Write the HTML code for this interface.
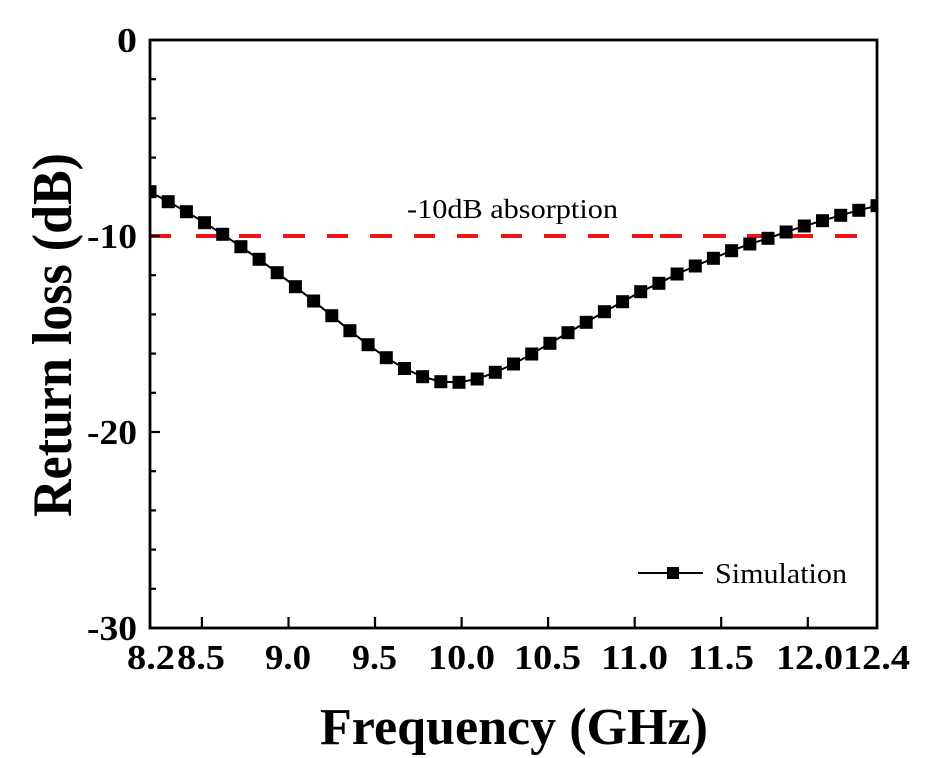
<!DOCTYPE html>
<html>
<head>
<meta charset="utf-8">
<style>
  html, body { margin:0; padding:0; background:#ffffff; }
  svg { display:block; }
  .tick { font-family:"Liberation Serif", serif; font-weight:bold; fill:#000; }
  .title { font-family:"Liberation Serif", serif; font-weight:bold; fill:#000; }
  .reg { font-family:"Liberation Serif", serif; fill:#000; }
</style>
</head>
<body>
<svg width="945" height="758" viewBox="0 0 945 758" xmlns="http://www.w3.org/2000/svg">
  <rect x="0" y="0" width="945" height="758" fill="#ffffff"/>
  <defs>
    <clipPath id="plot">
      <rect x="150" y="40" width="727" height="588"/>
    </clipPath>
  </defs>

  <g stroke="#f01414" stroke-width="4">
    <line x1="150" y1="236" x2="171" y2="236"/>
    <line x1="196" y1="236" x2="217" y2="236"/>
    <line x1="239" y1="236" x2="261" y2="236"/>
    <line x1="283" y1="236" x2="305" y2="236"/>
    <line x1="327" y1="236" x2="348" y2="236"/>
    <line x1="370" y1="236" x2="392" y2="236"/>
    <line x1="414" y1="236" x2="435" y2="236"/>
    <line x1="457" y1="236" x2="478" y2="236"/>
    <line x1="501" y1="236" x2="522" y2="236"/>
    <line x1="544" y1="236" x2="566" y2="236"/>
    <line x1="588" y1="236" x2="609" y2="236"/>
    <line x1="632" y1="236" x2="653" y2="236"/>
    <line x1="660" y1="236" x2="682" y2="236"/>
    <line x1="703" y1="236" x2="726" y2="236"/>
    <line x1="747" y1="236" x2="768" y2="236"/>
    <line x1="790" y1="236" x2="813" y2="236"/>
    <line x1="835" y1="236" x2="857" y2="236"/>
  </g>

  <g clip-path="url(#plot)">
    <polyline fill="none" stroke="#000" stroke-width="2"
      points="150,191.7 168.2,201.7 186.4,211.7 204.5,222.7 222.7,234.3 240.9,246.7 259.1,259.3 277.2,272.7 295.4,286.7 313.6,301 331.8,315.7 349.9,330.7 368.1,344.7 386.3,357.7 404.5,368.5 422.6,376.7 440.8,381.7 459,382.3 477.2,379 495.3,372.3 513.5,364 531.7,354 549.9,343.3 568,332.7 586.2,322.3 604.4,311.7 622.6,301.7 640.7,291.7 658.9,283.3 677.1,274 695.3,266 713.4,258.3 731.6,250.7 749.8,244 768,238.3 786.1,232 804.3,226 822.5,220.7 840.7,215.3 858.8,210.3 877,205.7"/>
    <g fill="#000">
      <rect x="143.5" y="185.2" width="13" height="13"/>
      <rect x="161.7" y="195.2" width="13" height="13"/>
      <rect x="179.9" y="205.2" width="13" height="13"/>
      <rect x="198" y="216.2" width="13" height="13"/>
      <rect x="216.2" y="227.8" width="13" height="13"/>
      <rect x="234.4" y="240.2" width="13" height="13"/>
      <rect x="252.6" y="252.8" width="13" height="13"/>
      <rect x="270.7" y="266.2" width="13" height="13"/>
      <rect x="288.9" y="280.2" width="13" height="13"/>
      <rect x="307.1" y="294.5" width="13" height="13"/>
      <rect x="325.3" y="309.2" width="13" height="13"/>
      <rect x="343.4" y="324.2" width="13" height="13"/>
      <rect x="361.6" y="338.2" width="13" height="13"/>
      <rect x="379.8" y="351.2" width="13" height="13"/>
      <rect x="398" y="362" width="13" height="13"/>
      <rect x="416.1" y="370.2" width="13" height="13"/>
      <rect x="434.3" y="375.2" width="13" height="13"/>
      <rect x="452.5" y="375.8" width="13" height="13"/>
      <rect x="470.7" y="372.5" width="13" height="13"/>
      <rect x="488.8" y="365.8" width="13" height="13"/>
      <rect x="507" y="357.5" width="13" height="13"/>
      <rect x="525.2" y="347.5" width="13" height="13"/>
      <rect x="543.4" y="336.8" width="13" height="13"/>
      <rect x="561.5" y="326.2" width="13" height="13"/>
      <rect x="579.7" y="315.8" width="13" height="13"/>
      <rect x="597.9" y="305.2" width="13" height="13"/>
      <rect x="616.1" y="295.2" width="13" height="13"/>
      <rect x="634.2" y="285.2" width="13" height="13"/>
      <rect x="652.4" y="276.8" width="13" height="13"/>
      <rect x="670.6" y="267.5" width="13" height="13"/>
      <rect x="688.8" y="259.5" width="13" height="13"/>
      <rect x="706.9" y="251.8" width="13" height="13"/>
      <rect x="725.1" y="244.2" width="13" height="13"/>
      <rect x="743.3" y="237.5" width="13" height="13"/>
      <rect x="761.5" y="231.8" width="13" height="13"/>
      <rect x="779.6" y="225.5" width="13" height="13"/>
      <rect x="797.8" y="219.5" width="13" height="13"/>
      <rect x="816" y="214.2" width="13" height="13"/>
      <rect x="834.2" y="208.8" width="13" height="13"/>
      <rect x="852.3" y="203.8" width="13" height="13"/>
      <rect x="870.5" y="199.2" width="13" height="13"/>
    </g>
  </g>

  <rect x="150" y="40" width="727" height="588" fill="none" stroke="#000" stroke-width="2.8"/>

  <g stroke="#000" stroke-width="2.2">
    <line x1="150" y1="40" x2="160" y2="40"/>
    <line x1="150" y1="79.2" x2="156" y2="79.2"/>
    <line x1="150" y1="118.4" x2="156" y2="118.4"/>
    <line x1="150" y1="157.6" x2="156" y2="157.6"/>
    <line x1="150" y1="196.8" x2="156" y2="196.8"/>
    <line x1="150" y1="236" x2="160" y2="236"/>
    <line x1="150" y1="275.2" x2="156" y2="275.2"/>
    <line x1="150" y1="314.4" x2="156" y2="314.4"/>
    <line x1="150" y1="353.6" x2="156" y2="353.6"/>
    <line x1="150" y1="392.8" x2="156" y2="392.8"/>
    <line x1="150" y1="432" x2="160" y2="432"/>
    <line x1="150" y1="471.2" x2="156" y2="471.2"/>
    <line x1="150" y1="510.4" x2="156" y2="510.4"/>
    <line x1="150" y1="549.6" x2="156" y2="549.6"/>
    <line x1="150" y1="588.8" x2="156" y2="588.8"/>
  </g>
  <g stroke="#000" stroke-width="2.2">
    <line x1="201.9" y1="628" x2="201.9" y2="617"/>
    <line x1="288.5" y1="628" x2="288.5" y2="617"/>
    <line x1="375" y1="628" x2="375" y2="617"/>
    <line x1="461.6" y1="628" x2="461.6" y2="617"/>
    <line x1="548.1" y1="628" x2="548.1" y2="617"/>
    <line x1="634.7" y1="628" x2="634.7" y2="617"/>
    <line x1="721.2" y1="628" x2="721.2" y2="617"/>
    <line x1="807.8" y1="628" x2="807.8" y2="617"/>
  </g>

  <g class="tick" font-size="35" text-anchor="end">
    <text x="137" y="52" textLength="20" lengthAdjust="spacingAndGlyphs">0</text>
    <text x="137" y="248" textLength="50" lengthAdjust="spacingAndGlyphs">-10</text>
    <text x="137" y="444" textLength="50" lengthAdjust="spacingAndGlyphs">-20</text>
    <text x="137" y="640" textLength="50" lengthAdjust="spacingAndGlyphs">-30</text>
  </g>

  <g class="tick" font-size="35">
    <text x="127" y="669" textLength="48" lengthAdjust="spacingAndGlyphs">8.2</text>
    <text x="177" y="669" textLength="48" lengthAdjust="spacingAndGlyphs">8.5</text>
    <text x="265" y="669" textLength="46" lengthAdjust="spacingAndGlyphs">9.0</text>
    <text x="352" y="669" textLength="45" lengthAdjust="spacingAndGlyphs">9.5</text>
    <text x="428" y="669" textLength="67" lengthAdjust="spacingAndGlyphs">10.0</text>
    <text x="514" y="669" textLength="67" lengthAdjust="spacingAndGlyphs">10.5</text>
    <text x="601" y="669" textLength="67" lengthAdjust="spacingAndGlyphs">11.0</text>
    <text x="688" y="669" textLength="66" lengthAdjust="spacingAndGlyphs">11.5</text>
    <text x="776" y="669" textLength="67" lengthAdjust="spacingAndGlyphs">12.0</text>
    <text x="843" y="669" textLength="67" lengthAdjust="spacingAndGlyphs">12.4</text>
  </g>

  <text class="title" x="320" y="744" font-size="52" textLength="388" lengthAdjust="spacingAndGlyphs">Frequency (GHz)</text>
  <text class="title" transform="translate(71,335) rotate(-90)" x="0" y="0" font-size="56" text-anchor="middle" textLength="364" lengthAdjust="spacingAndGlyphs">Return loss (dB)</text>

  <text class="reg" x="407" y="218" font-size="27" textLength="211" lengthAdjust="spacingAndGlyphs">-10dB absorption</text>

  <line x1="638" y1="573" x2="703" y2="573" stroke="#000" stroke-width="2"/>
  <rect x="667" y="567" width="12" height="12" fill="#000"/>
  <text class="reg" x="715" y="583" font-size="29" textLength="132" lengthAdjust="spacingAndGlyphs">Simulation</text>
</svg>
</body>
</html>
